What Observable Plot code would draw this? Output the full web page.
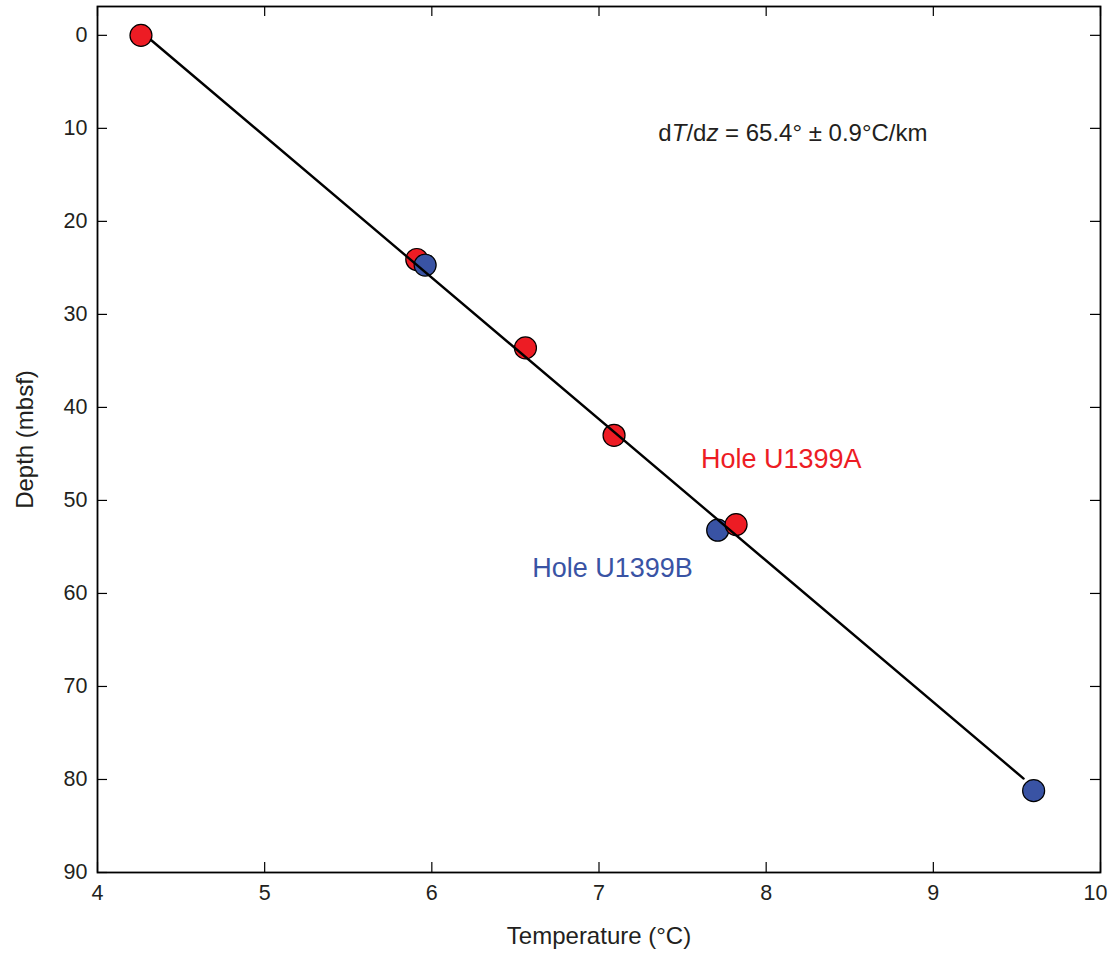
<!DOCTYPE html>
<html><head><meta charset="utf-8">
<script src="https://cdn.jsdelivr.net/npm/d3@7"></script>
<script src="https://cdn.jsdelivr.net/npm/@observablehq/plot@0.6"></script>
<style>body{margin:0;background:#fff;}</style>
</head><body><div id="chart"></div>
<script>
// Data
const holeA_temp = [4.26, 5.91, 6.56, 7.09, 7.82];
const holeA_depth = [0.0, 24.1, 33.6, 43.0, 52.6];
const holeB_temp = [5.96, 7.71, 9.60];
const holeB_depth = [24.7, 53.2, 81.2];
const fit_temp = [4.32, 9.54];
const fit_depth = [0.5, 79.9];
const xTicks = [4, 5, 6, 7, 8, 9, 10];
const yTicks = [0, 10, 20, 30, 40, 50, 60, 70, 80, 90];
const holeNames = ["Hole U1399A", "Hole U1399B"];
const holeColors = ["#ed1c24", "#3953a4"];
const holeLabelTemp = [7.61, 6.60];
const holeLabelDepth = [45.6, 57.3];
const gradientText = "dT/dz = 65.4° ± 0.9°C/km";
const gradientTemp = 7.355;
const gradientDepth = 10.5;
const xLabel = "Temperature (°C)";
const yLabel = "Depth (mbsf)";

const W = 1112, H = 955, mL = 97, mR = 12, mT = 6, mB = 83;
const plotW = W - mL - mR, plotH = H - mT - mB;

const points = [
  ...holeA_temp.map((t, i) => ({temp: t, depth: holeA_depth[i], hole: holeNames[0]})),
  ...holeB_temp.map((t, i) => ({temp: t, depth: holeB_depth[i], hole: holeNames[1]}))
].sort((a, b) => a.temp - b.temp);
const fitLine = fit_temp.map((t, i) => ({temp: t, depth: fit_depth[i]}));
const holeLabels = holeNames.map((h, i) => ({hole: h, temp: holeLabelTemp[i], depth: holeLabelDepth[i]}));

const chart = Plot.plot({
  width: W, height: H,
  marginLeft: mL, marginRight: mR, marginTop: mT, marginBottom: mB,
  style: {fontFamily: "'Liberation Sans', Arial, sans-serif", fontSize: "21.5px", color: "#231f20", background: "#fff"},
  x: {domain: [4, 10]},
  y: {domain: [-3.1, 90], reverse: true},
  color: {domain: holeNames, range: holeColors},
  marks: [
    Plot.tickX(xTicks, {x: d => d, insetTop: plotH - 10, stroke: "black", strokeWidth: 1.2}),
    Plot.tickX(xTicks, {x: d => d, insetBottom: plotH - 10, stroke: "black", strokeWidth: 1.2}),
    Plot.tickY(yTicks, {y: d => d, insetRight: plotW - 10, stroke: "black", strokeWidth: 1.2}),
    Plot.tickY(yTicks, {y: d => d, insetLeft: plotW - 10, stroke: "black", strokeWidth: 1.2}),
    Plot.axisX({ticks: xTicks, tickFormat: d3.format("d"), tickSize: 0, tickPadding: 12, label: xLabel, labelAnchor: "center", labelOffset: 71, labelArrow: "none"}),
    Plot.axisY({ticks: yTicks, tickFormat: d3.format("d"), tickSize: 0, tickPadding: 10, label: yLabel, labelAnchor: "center", labelOffset: 82, labelArrow: "none"}),
    Plot.dot(points, {x: "temp", y: "depth", r: 11, fill: "hole", stroke: "black", strokeWidth: 1.2, fillOpacity: 1}),
    Plot.line(fitLine, {x: "temp", y: "depth", stroke: "black", strokeWidth: 2.4}),
    Plot.text(holeLabels, {x: "temp", y: "depth", text: "hole", fill: "hole", textAnchor: "start", fontSize: 27}),
    Plot.text([gradientText], {x: () => gradientTemp, y: () => gradientDepth, text: d => d, textAnchor: "start", fontSize: 24, fill: "#231f20"}),
    Plot.frame({stroke: "black", strokeWidth: 1.8})
  ]
});

const svg = d3.select(chart);
svg.selectAll("text").filter(function() { return this.textContent === gradientText; })
  .each(function() {
    const el = d3.select(this);
    el.text("");
    el.append("tspan").text("d");
    el.append("tspan").attr("font-style", "italic").text("T");
    el.append("tspan").text("/d");
    el.append("tspan").attr("font-style", "italic").text("z");
    el.append("tspan").text(" = 65.4° ± 0.9°C/km");
  });
svg.selectAll("text").filter(function() { return this.textContent === xLabel || this.textContent === yLabel; })
  .style("font-size", "24px");
// nudge the last x tick label inward, as in the reference
svg.selectAll("[aria-label='x-axis tick label'] text").filter(function() { return this.textContent === "10"; })
  .attr("dx", -5);

document.getElementById("chart").appendChild(chart);
</script>
</body></html>
